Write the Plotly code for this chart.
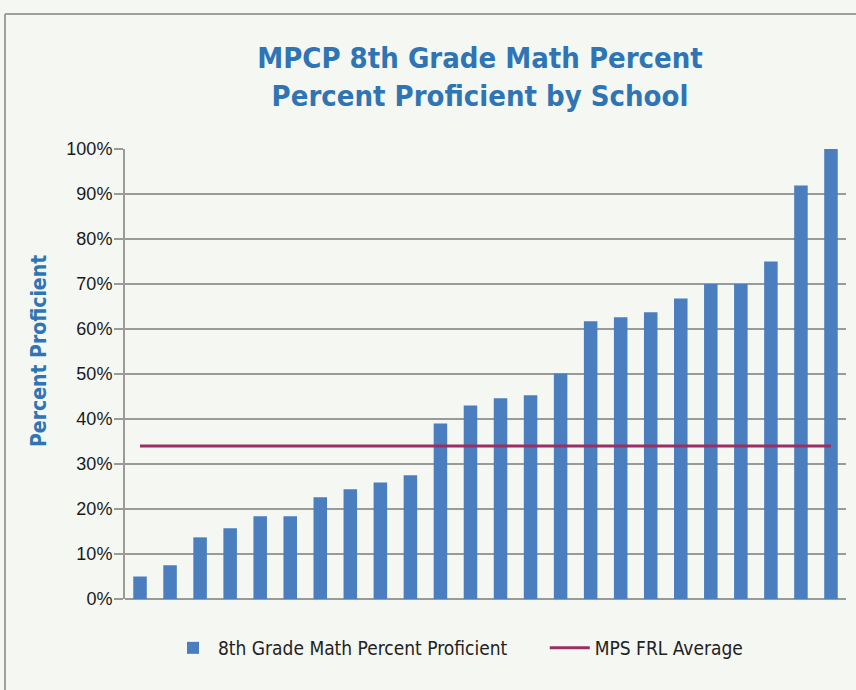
import plotly.graph_objects as go

schools = [f"School {i}" for i in range(1, 25)]
proficient = [5.0, 7.5, 13.7, 15.7, 18.4, 18.4, 22.6, 24.4, 25.9, 27.5,
              39.0, 43.0, 44.6, 45.3, 50.1, 61.7, 62.6, 63.7, 66.8, 70.0,
              70.0, 75.0, 91.9, 100.0]
frl_average = [34.0] * len(schools)
y_ticks = [0, 10, 20, 30, 40, 50, 60, 70, 80, 90, 100]
series_names = ["8th Grade Math Percent Proficient", "MPS FRL Average"]

TITLE_BLUE = "#2F75B5"
BAR_BLUE = "#4A7EBF"
LINE_RED = "#9B2F63"
GRID = "#9A9A9A"
BG = "#F5F7F2"
COND = "DejaVu Sans Condensed, Liberation Sans Narrow, sans-serif"

W, H = 856, 690
L, R, T, B = 125, 10, 149, 91
PW, PH = W - L - R, H - T - B


def px_x(p):
    return (p - L) / PW


def px_y(p):
    return (H - B - p) / PH


fig = go.Figure()
fig.add_trace(go.Bar(
    x=schools, y=proficient, name=series_names[0] + "\u00a0" * 6,
    marker=dict(color=BAR_BLUE, line=dict(width=0)), width=0.45,
))
fig.add_trace(go.Scatter(
    x=schools, y=frl_average, name=series_names[1], mode="lines",
    line=dict(color=LINE_RED, width=3),
))

fig.update_layout(
    width=W, height=H,
    paper_bgcolor=BG, plot_bgcolor=BG,
    margin=dict(l=L, r=R, t=T, b=B, autoexpand=False),
    title=dict(
        text="<b>MPCP 8th Grade Math Percent<br>Percent Proficient by School</b>",
        x=480 / W, xref="container", xanchor="center",
        y=1 - 68 / H, yref="container", yanchor="top",
        font=dict(family=COND, size=29, color=TITLE_BLUE),
    ),
    showlegend=True,
    legend=dict(
        orientation="h", x=px_x(168), xanchor="left", y=px_y(648), yanchor="middle",
        font=dict(family=COND, size=19, color="#222222"),
        bgcolor="rgba(0,0,0,0)", itemwidth=40,
    ),
)

fig.update_yaxes(
    range=[0, 100], tickvals=y_ticks, ticktext=[f"{v}%" for v in y_ticks],
    showgrid=True, gridcolor=GRID, gridwidth=2,
    zeroline=True, zerolinecolor=GRID, zerolinewidth=2,
    showline=True, linecolor=GRID, linewidth=2,
    ticks="outside", ticklen=9, tickcolor=GRID, tickwidth=2,
    ticklabelstandoff=-2,
    tickfont=dict(family="Liberation Sans, Arial, sans-serif", size=18, color="#1a1a1a"),
)
fig.update_xaxes(showticklabels=False, showgrid=False, zeroline=False, ticks="")

fig.add_annotation(
    text="<b>Percent Proficient</b>", textangle=-90,
    xref="paper", yref="paper", x=px_x(39), y=px_y(351),
    xanchor="center", yanchor="middle", showarrow=False,
    font=dict(family=COND, size=21, color=TITLE_BLUE),
)

# outer frame (top and left edges visible)
x_left = px_x(5)
y_top = px_y(14)
fig.add_shape(type="line", xref="paper", yref="paper", x0=x_left, x1=1.05, y0=y_top, y1=y_top,
              line=dict(color="#A0A0A0", width=2))
fig.add_shape(type="line", xref="paper", yref="paper", x0=x_left, x1=x_left, y0=y_top, y1=px_y(700),
              line=dict(color="#A0A0A0", width=2))

fig.write_html("out.html", config={"displayModeBar": False},
               post_script="document.body.style.margin='0px';")
